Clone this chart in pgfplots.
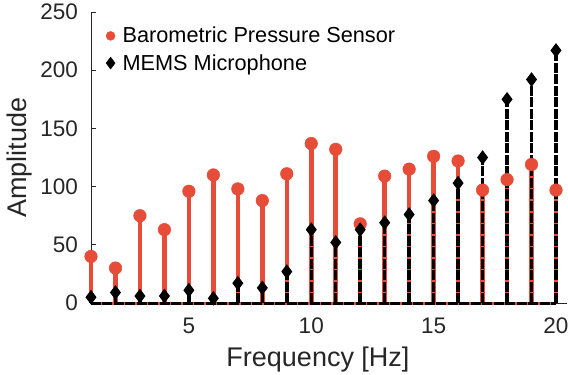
\documentclass[border=0pt]{standalone}
\usepackage{fontspec}
\setmainfont{Liberation Sans}
\usepackage{pgfplots}
\pgfplotsset{compat=1.18}
\definecolor{bps}{RGB}{230,76,56}
\definecolor{axgray}{RGB}{38,38,38}
\newcommand\tl{\fontsize{22.5}{26}\selectfont}
\pgfplotstableread{
x y
1 40
2 30
3 75
4 63
5 96
6 110
7 98
8 88
9 111
10 137
11 132
12 68
13 109
14 115
15 126
16 122
17 97
18 106
19 119
20 97
}\baro
\pgfplotstableread{
x y
1 5
2 9
3 6
4 6
5 11
6 4
7 17
8 13
9 27
10 63
11 52
12 63
13 69
14 76
15 88
16 103
17 125
18 175
19 192
20 217
}\mems
\begin{document}
\begin{tikzpicture}
\path[use as bounding box] (-91pt,-72pt) rectangle (477pt,303pt);
\begin{axis}[
 at={(0pt,0pt)}, anchor=south west,
 scale only axis, width=476pt, height=291pt,
 xmin=1, xmax=20.45, ymin=0, ymax=250,
 axis x line=bottom, axis y line=left,
 axis line style={-, axgray, line width=0.8pt},
 xtick={5,10,15,20}, ytick={0,50,100,150,200,250},
 xticklabels={5,10,15,20},
 yticklabels={0,50,100,150,200,250},
 tick align=inside, major tick length=5pt,
 tick style={axgray, line width=0.8pt},
 every tick label/.append style={font=\tl, text=axgray},
 /pgf/number format/assume math mode=true,
 yticklabel style={inner sep=0pt, anchor=east, xshift=-13pt},
 xticklabel style={inner sep=0pt, anchor=north, yshift=-15pt},
 xlabel={Frequency [Hz]}, ylabel={Amplitude},
 label style={font=\fontsize{27}{31}\selectfont, text=axgray},
 xlabel style={at={(axis description cs:0.5,0)}, anchor=base, yshift=-63pt, xshift=-11pt, inner sep=0pt},
 ylabel style={at={(axis description cs:-0.151,0.5)}, anchor=center},
 legend style={draw=none, fill=none, at={(0.025,0.962)}, anchor=north west,
   font=\fontsize{21.7}{26}\selectfont, row sep=6pt,
   nodes={inner xsep=7.5pt}},
 legend cell align=left,
 clip=false,
]
\addlegendimage{only marks, mark=*, bps, mark size=4.5pt}
\addlegendentry{Barometric Pressure Sensor}
\addlegendimage{only marks, mark=diamond*, black, mark size=6pt}
\addlegendentry{MEMS Microphone}
\addplot[ycomb, bps, line width=4.5pt, mark=*, mark size=6.3pt, mark options={solid, fill=bps, draw=bps, line width=0.5pt}, forget plot] table[x=x,y=y] {\baro};
\addplot[bps, line width=3pt, forget plot] coordinates {(1,0) (20,0)};
\addplot[ycomb, black, line width=3.5pt, dash pattern=on 10pt off 1.5pt, mark=diamond*, mark size=6.5pt, mark options={solid, fill=black, draw=black, line width=1pt}, forget plot] table[x=x,y=y] {\mems};
\addplot[black, line width=3pt, dash pattern=on 10pt off 1.5pt, forget plot] coordinates {(1,0) (20,0)};
\end{axis}
\end{tikzpicture}
\end{document}
